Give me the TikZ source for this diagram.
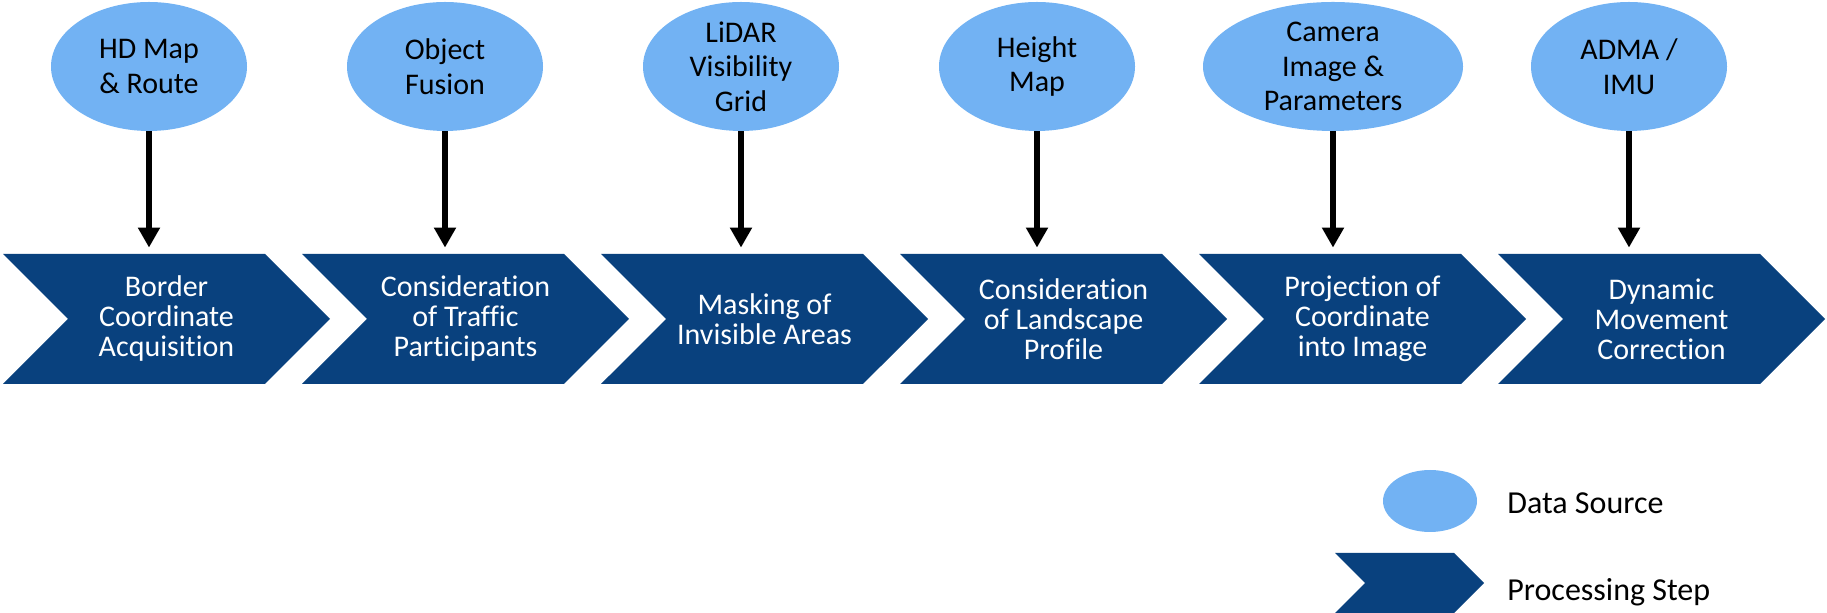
\documentclass[tikz,border=0pt]{standalone}
\usepackage{fontspec}
\setmainfont{Carlito}[Ligatures=NoCommon]
\usetikzlibrary{shapes.geometric,shapes.symbols,arrows.meta}
\definecolor{srcblue}{RGB}{114,178,243}
\definecolor{stepblue}{RGB}{9,65,126}
\tikzset{
  source/.style={ellipse, fill=srcblue, inner sep=0pt, minimum width=98pt,
    minimum height=64.5pt, align=center, font=\fontsize{15}{17.25}\selectfont},
  stepbox/.style={signal, signal from=west, signal to=east, signal pointer angle=90,
    fill=stepblue, text=white, inner sep=0pt, minimum width=163.5pt,
    minimum height=65pt, align=center, font=\fontsize{15}{15}\selectfont},
  flow/.style={line width=3.25pt, -{Triangle[width=10.5pt,length=10pt]}, shorten >=3pt},
  legendtext/.style={anchor=base west, inner sep=0pt, font=\fontsize{16}{19}\selectfont}
}
\begin{document}
\begin{tikzpicture}[x=0.5pt,y=-0.5pt]
      \useasboundingbox (0,0) rectangle (1827,613);
      % data sources feeding the processing chain
      \foreach \src/\w/\step [count=\i from 1] in {
        {HD Map\\\& Route}/98/{Border\\Coordinate\\Acquisition},
        {Object\\Fusion}/98/{Consideration\\of Traffic\\Participants},
        {LiDAR\\Visibility\\Grid}/98/{Masking of\\Invisible Areas},
        {Height\\Map}/98/{Consideration\\of Landscape\\Profile},
        {Camera\\Image \&\\Parameters}/130/{Projection of\\Coordinate\\into Image},
        {ADMA /\\IMU}/98/{Dynamic\\Movement\\Correction}}
      {
      \node[source, minimum width=\w pt] (ds\i) at ({149+296*(\i-1)},66.5) {\src};
      \node[stepbox] (ps\i) at ({166.5+299*(\i-1)},319) {\step};
      \draw[flow] (ds\i.south) -- (ds\i.south |- ps\i.north);
      }
      % legend
      \node[source, minimum width=47pt, minimum height=31pt] (lgsrc) at (1430,501) {};
      \node[stepbox, minimum width=74.5pt, minimum height=30pt] (lgstep) at (1409.5,583) {};
      \node[legendtext] (lgsrctxt) at (1507,514) {Data Source};
      \node[legendtext] (lgsteptxt) at (1507,601) {Processing Step};
    \end{tikzpicture}
\end{document}
